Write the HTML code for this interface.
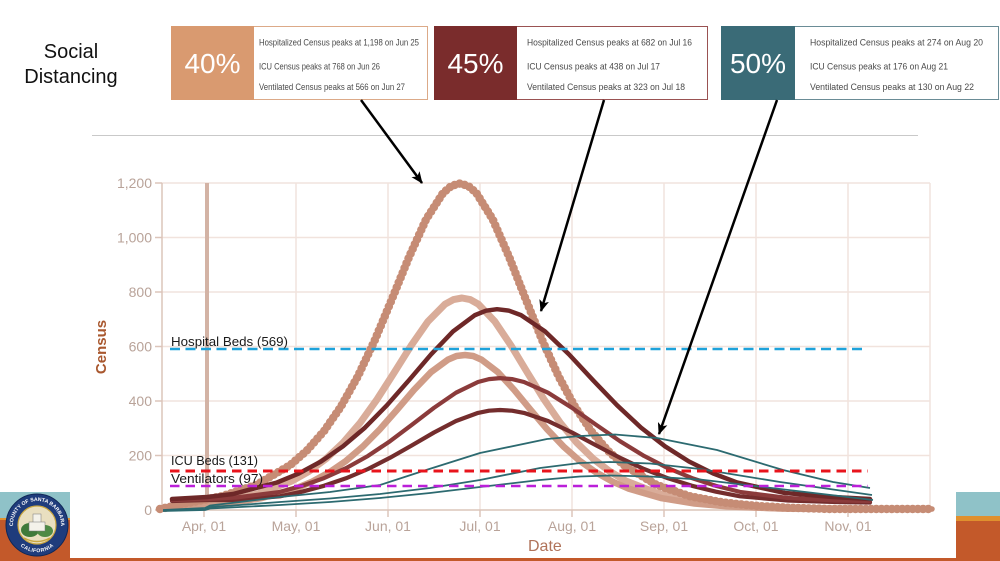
<!DOCTYPE html>
<html><head><meta charset="utf-8"><style>
html,body{margin:0;padding:0;background:#fff;width:1000px;height:561px;overflow:hidden}
svg{display:block}
text{font-family:"Liberation Sans",Arial,sans-serif}
</style></head><body>
<svg width="1000" height="561" viewBox="0 0 1000 561" xmlns="http://www.w3.org/2000/svg">
<defs>
<marker id="ah" viewBox="0 0 12 10" refX="11" refY="5" markerWidth="12" markerHeight="10" markerUnits="userSpaceOnUse" orient="auto"><path d="M0,0 L12,5 L0,10 L3,5 z" fill="#000"/></marker>
<path id="ringTop" d="M13,525 A24,24 0 0 1 61,525"/>
<path id="ringBot" d="M15,527 A22,22 0 0 0 59,527"/>
</defs>

<!-- title -->
<text x="71" y="58" font-size="20" text-anchor="middle" fill="#111">Social</text>
<text x="71" y="83" font-size="20" text-anchor="middle" fill="#111">Distancing</text>

<!-- 40% box -->
<rect x="171.5" y="26.5" width="256" height="73" fill="#fff" stroke="#dcaa88" stroke-width="1"/>
<rect x="171" y="26" width="83" height="74" fill="#d99a70"/>
<text x="212.5" y="73" font-size="28" text-anchor="middle" fill="#fff">40%</text>
<g font-size="9.5" fill="#4a4a4a">
<text x="259" y="45.5" textLength="160" lengthAdjust="spacingAndGlyphs">Hospitalized Census peaks at 1,198 on Jun 25</text>
<text x="259" y="69.5" textLength="121" lengthAdjust="spacingAndGlyphs">ICU Census peaks at 768 on Jun 26</text>
<text x="259" y="90" textLength="146" lengthAdjust="spacingAndGlyphs">Ventilated Census peaks at 566 on Jun 27</text>
</g>

<!-- 45% box -->
<rect x="434.5" y="26.5" width="273" height="73" fill="#fff" stroke="#9a5252" stroke-width="1"/>
<rect x="434" y="26" width="83" height="74" fill="#7a2c2c"/>
<text x="475.5" y="73" font-size="28" text-anchor="middle" fill="#fff">45%</text>
<g font-size="9.5" fill="#4a4a4a">
<text x="527" y="45.5" textLength="165" lengthAdjust="spacingAndGlyphs">Hospitalized Census peaks at 682 on Jul 16</text>
<text x="527" y="69.5" textLength="133" lengthAdjust="spacingAndGlyphs">ICU Census peaks at 438 on Jul 17</text>
<text x="527" y="90" textLength="158" lengthAdjust="spacingAndGlyphs">Ventilated Census peaks at 323 on Jul 18</text>
</g>

<!-- 50% box -->
<rect x="721.5" y="26.5" width="277" height="73" fill="#fff" stroke="#6a8c96" stroke-width="1"/>
<rect x="721" y="26" width="74" height="74" fill="#3a6b77"/>
<text x="758" y="73" font-size="28" text-anchor="middle" fill="#fff">50%</text>
<g font-size="9.5" fill="#4a4a4a">
<text x="810" y="45.5" textLength="173" lengthAdjust="spacingAndGlyphs">Hospitalized Census peaks at 274 on Aug 20</text>
<text x="810" y="69.5" textLength="138" lengthAdjust="spacingAndGlyphs">ICU Census peaks at 176 on Aug 21</text>
<text x="810" y="90" textLength="164" lengthAdjust="spacingAndGlyphs">Ventilated Census peaks at 130 on Aug 22</text>
</g>

<!-- header rule -->
<line x1="92" y1="135.5" x2="918" y2="135.5" stroke="#c9c9c9" stroke-width="1"/>

<!-- grid -->
<g stroke="#f1e3dd" stroke-width="1.5" fill="none">
<line x1="162" y1="183" x2="930" y2="183"/>
<line x1="162" y1="237.5" x2="930" y2="237.5"/>
<line x1="162" y1="292" x2="930" y2="292"/>
<line x1="162" y1="346.5" x2="930" y2="346.5"/>
<line x1="162" y1="401" x2="930" y2="401"/>
<line x1="162" y1="455.5" x2="930" y2="455.5"/>
<line x1="296" y1="183" x2="296" y2="510"/>
<line x1="388" y1="183" x2="388" y2="510"/>
<line x1="480" y1="183" x2="480" y2="510"/>
<line x1="572" y1="183" x2="572" y2="510"/>
<line x1="664" y1="183" x2="664" y2="510"/>
<line x1="756" y1="183" x2="756" y2="510"/>
<line x1="848" y1="183" x2="848" y2="510"/>
<line x1="930" y1="183" x2="930" y2="510"/>
</g>

<!-- axes -->
<g stroke="#dcc5ba" stroke-width="1.5">
<line x1="162" y1="183" x2="162" y2="510"/>
<line x1="162" y1="510" x2="930" y2="510"/>
<line x1="155" y1="183" x2="162" y2="183"/>
<line x1="155" y1="237.5" x2="162" y2="237.5"/>
<line x1="155" y1="292" x2="162" y2="292"/>
<line x1="155" y1="346.5" x2="162" y2="346.5"/>
<line x1="155" y1="401" x2="162" y2="401"/>
<line x1="155" y1="455.5" x2="162" y2="455.5"/>
<line x1="155" y1="510" x2="162" y2="510"/>
<line x1="204" y1="510" x2="204" y2="517"/>
<line x1="296" y1="510" x2="296" y2="517"/>
<line x1="388" y1="510" x2="388" y2="517"/>
<line x1="480" y1="510" x2="480" y2="517"/>
<line x1="572" y1="510" x2="572" y2="517"/>
<line x1="664" y1="510" x2="664" y2="517"/>
<line x1="756" y1="510" x2="756" y2="517"/>
<line x1="848" y1="510" x2="848" y2="517"/>
</g>

<!-- today line -->
<line x1="207" y1="183" x2="207" y2="510" stroke="#d3b3a5" stroke-width="4"/>

<!-- y labels -->
<g font-size="14" fill="#b9a399" text-anchor="end">
<text x="152" y="188">1,200</text>
<text x="152" y="242.5">1,000</text>
<text x="152" y="297">800</text>
<text x="152" y="351.5">600</text>
<text x="152" y="406">400</text>
<text x="152" y="460.5">200</text>
<text x="152" y="515">0</text>
</g>
<text transform="translate(106,347) rotate(-90)" font-size="15" font-weight="bold" fill="#a9582f" text-anchor="middle">Census</text>

<!-- x labels -->
<g font-size="14" fill="#b9a399" text-anchor="middle">
<text x="204" y="531">Apr, 01</text>
<text x="296" y="531">May, 01</text>
<text x="388" y="531">Jun, 01</text>
<text x="480" y="531">Jul, 01</text>
<text x="572" y="531">Aug, 01</text>
<text x="664" y="531">Sep, 01</text>
<text x="756" y="531">Oct, 01</text>
<text x="848" y="531">Nov, 01</text>
</g>
<text x="528" y="551" font-size="16" fill="#b0735a">Date</text>

<!-- 40% series -->
<g fill="none" stroke-linejoin="round" stroke-linecap="round">
<path d="M165,508 L190,505.1 L224,501.1 L258,493.8 L292,481 L309,471.3 L326,458.8 L343,442.8 L360,423 L377,399.4 L394,372.9 L411,345.8 L428,321.4 L445,304.2 L453.5,299.6 L462,298 L470.2,299.6 L478.4,304.2 L494.8,321.4 L511.2,345.8 L527.6,372.9 L544,399.4 L560.4,423 L576.8,442.8 L593.2,458.8 L609.6,471.3 L626,481 L658.8,493.8 L691.6,501.1 L724.4,505.1 L757.2,507.3 L790,508.5 L870,509" stroke="#d9ac99" stroke-width="7"/>
<path d="M165,508.5 L193,506.4 L227,503.5 L261,498.2 L295,488.8 L312,481.7 L329,472.5 L346,460.9 L363,446.4 L380,429.1 L397,409.8 L414,389.9 L431,372.1 L448,359.6 L456.5,356 L465,355 L473.2,356 L481.4,359.6 L497.8,372.1 L514.2,389.9 L530.6,409.8 L547,429.1 L563.4,446.4 L579.8,460.9 L596.2,472.5 L612.6,481.7 L629,488.8 L661.8,498.2 L694.6,503.5 L727.4,506.4 L780,508.5 L870,509" stroke="#d09c87" stroke-width="6.5"/>
<g stroke="#c68c75">
<path d="M160,509 L188,503 L222,496.2 L256,485.1 L290,465.3 L307,450.4 L324,431.1 L341,406.5 L358,376 L375,339.7 L392,298.9 L409,257.1 L426,219.5 L443,193.1 L451.5,185.9 L460,183.5 L468.2,185.9 L476.4,193.1 L492.8,219.5 L509.2,257.1 L525.6,298.9 L542,339.7 L558.4,376 L574.8,406.5 L591.2,431.1 L607.6,450.4 L624,465.3 L656.8,485.1 L689.6,496.2 L722.4,502.4 L755.2,505.8 L788,507.7 L830,509 L932,509" stroke-width="5.5"/>
<path d="M160,509 L188,503 L222,496.2 L256,485.1 L290,465.3 L307,450.4 L324,431.1 L341,406.5 L358,376 L375,339.7 L392,298.9 L409,257.1 L426,219.5 L443,193.1 L451.5,185.9 L460,183.5 L468.2,185.9 L476.4,193.1 L492.8,219.5 L509.2,257.1 L525.6,298.9 L542,339.7 L558.4,376 L574.8,406.5 L591.2,431.1 L607.6,450.4 L624,465.3 L656.8,485.1 L689.6,496.2 L722.4,502.4 L755.2,505.8 L788,507.7 L830,509 L932,509" stroke-width="8.5" stroke-dasharray="0 5.2"/>
</g>
</g>

<!-- 45% series -->
<g fill="none" stroke-linejoin="round" stroke-linecap="round">
<path d="M172,501 L207,500 L236,500 L280,496.3 L302,491.7 L324,485.8 L346,478.3 L368,469 L390,457.8 L412,445.3 L434,432.5 L456,421 L478,412.9 L489,410.7 L500,410 L512,410.7 L524,412.9 L548,421 L572,432.5 L596,445.3 L620,457.8 L644,469 L668,478.3 L692,485.8 L716,491.7 L740,496.3 L788,500.5 L836,502 L870,502.5" stroke="#742d2d" stroke-width="4.2"/>
<path d="M172,500 L207,499 L236,497.5 L280,491.9 L302,485.9 L324,478.1 L346,468.2 L368,455.9 L390,441.2 L412,424.7 L434,407.8 L456,392.7 L478,382 L489,379.1 L500,378.1 L512,379.1 L524,382 L548,392.7 L572,407.8 L596,424.7 L620,441.2 L644,455.9 L668,468.2 L692,478.1 L716,485.9 L740,491.9 L788,498 L836,500.5 L870,501" stroke="#8b3b3b" stroke-width="4.2"/>
<path d="M172,499 L207,497 L233,494 L277,482.5 L299,473.4 L321,461.5 L343,446.3 L365,427.6 L387,405.2 L409,380.2 L431,354.4 L453,331.4 L475,315.1 L486,310.7 L497,309.2 L509,310.7 L521,315.1 L545,331.4 L569,354.4 L593,380.2 L617,405.2 L641,427.6 L665,446.3 L689,461.5 L713,473.4 L737,482.5 L785,493 L833,497 L870,499" stroke="#6e2828" stroke-width="4.5"/>
</g>

<!-- 50% series -->
<g fill="none" stroke="#2c6a70" stroke-width="1.8" stroke-linejoin="round">
<path d="M163,511 L205,510 L210,508.5 L240,507 L280,505 L330,502 L380,498 L430,493 L480,487 L540,480 L580,476.5 L610,475.5 L650,476.5 L700,479.5 L780,489 L873,500"/>
<path d="M163,510.5 L205,509.5 L210,507 L240,505 L280,502 L330,498.5 L380,494 L430,488 L480,480 L540,468 L580,463 L610,462 L650,463.5 L700,469 L780,482 L872,495"/>
<path d="M163,510 L205,508 L210,505.5 L240,502 L280,497 L330,492 L380,485 L423,471 L480,453 L547,439 L580,436 L615,434.5 L657,438 L717,450 L783,470 L833,482 L870,488"/>
</g>

<!-- threshold lines -->
<line x1="170" y1="349" x2="867" y2="349" stroke="#1ea2da" stroke-width="2.5" stroke-dasharray="10 5.5"/>
<line x1="170" y1="471" x2="868" y2="471" stroke="#e8141c" stroke-width="3" stroke-dasharray="9.5 6"/>
<line x1="170" y1="486" x2="868" y2="486" stroke="#bb1fd9" stroke-width="2.5" stroke-dasharray="9.5 6"/>
<g font-size="13" fill="#1a1a1a">
<text x="171" y="346" textLength="117" lengthAdjust="spacingAndGlyphs">Hospital Beds (569)</text>
<text x="171" y="465" textLength="87" lengthAdjust="spacingAndGlyphs">ICU Beds (131)</text>
<text x="171" y="483" textLength="92" lengthAdjust="spacingAndGlyphs">Ventilators (97)</text>
</g>

<!-- arrows -->
<g stroke="#000" stroke-width="2.5" marker-end="url(#ah)">
<line x1="361" y1="100" x2="422" y2="183"/>
<line x1="604" y1="100" x2="541" y2="311"/>
<line x1="777" y1="100" x2="659" y2="434"/>
</g>

<!-- footer decor -->
<rect x="0" y="558" width="1000" height="3" fill="#c3592a"/>
<rect x="0" y="492" width="70" height="26" fill="#8fc2c8"/>
<rect x="0" y="518" width="70" height="2" fill="#e0902e"/>
<rect x="0" y="520" width="70" height="41" fill="#c3592a"/>
<rect x="956" y="492" width="44" height="24" fill="#8fc2c8"/>
<rect x="956" y="516" width="44" height="5" fill="#e0902e"/>
<rect x="956" y="521" width="44" height="40" fill="#c3592a"/>

<!-- logo -->
<circle cx="37" cy="525" r="31" fill="#1f3c7c" stroke="#0f2757" stroke-width="1"/>
<circle cx="37" cy="525" r="19" fill="#e9dfc0" stroke="#c9a640" stroke-width="1.2"/>
<ellipse cx="30" cy="530" rx="9" ry="7" fill="#3f7a3a"/>
<ellipse cx="45" cy="531" rx="8" ry="6" fill="#4e8a45"/>
<rect x="33" y="514" width="8" height="16" fill="#f4f2ea" stroke="#777" stroke-width="0.5"/>
<rect x="29" y="522" width="16" height="9" fill="#f4f2ea" stroke="#777" stroke-width="0.5"/>
<path d="M24,538 Q37,545 50,538" stroke="#c9a640" stroke-width="1.5" fill="none"/>
<text font-size="5.2" font-weight="bold" fill="#fff"><textPath href="#ringTop" startOffset="50%" text-anchor="middle">COUNTY OF SANTA BARBARA</textPath></text>
<text font-size="5.2" font-weight="bold" fill="#fff"><textPath href="#ringBot" startOffset="50%" text-anchor="middle" dominant-baseline="hanging">CALIFORNIA</textPath></text>
</svg>
</body></html>
